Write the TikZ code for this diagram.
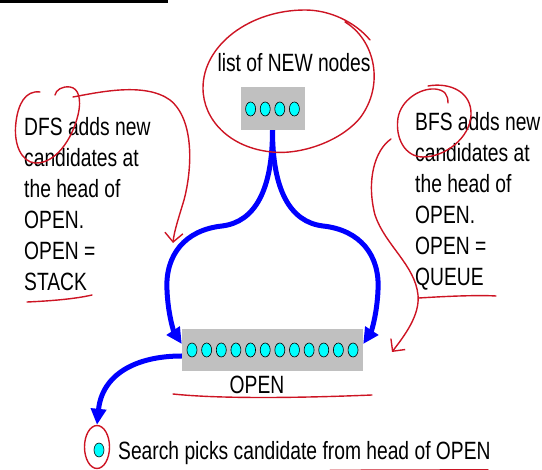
\documentclass[tikz,border=0pt]{standalone}
\usepackage{fontspec}
\setmainfont{Liberation Sans}[FakeStretch=0.77]
\usetikzlibrary{positioning,shapes.geometric,arrows.meta}
\definecolor{boxgray}{RGB}{192,192,192}
\definecolor{nodecyan}{RGB}{0,255,255}
\definecolor{penred}{RGB}{205,20,35}

\begin{document}
\begin{tikzpicture}[x=1pt, y=-1pt,
    box/.style={rectangle, fill=boxgray, inner sep=0pt},
    dot/.style={draw=black, ellipse, fill=nodecyan, minimum width=10pt, minimum height=14pt, inner sep=0pt, line width=0.6pt},
    arrow/.style={-{Triangle[length=16pt,width=15pt]}, line width=5pt, blue},
    txt/.style={inner sep=0pt, font=\fontsize{25}{30}\selectfont},
    note/.style={align=left, inner sep=0pt, font=\fontsize{25}{31}\selectfont},
    redpen/.style={penred, line width=1.4pt, line cap=round, line join=round},
    redtip/.style={-{Straight Barb[length=9pt,width=18pt]}}
  ]
  \useasboundingbox (0,0) rectangle (542,470);
  \draw [line width=3pt] (0,1.5) -- (168,1.5);

  % new nodes on top, OPEN list below
  \node (title) [txt, anchor=base] at (294,72) {list of NEW nodes};
  \node (newbox) [box, minimum width=64pt, minimum height=43pt] at (272.5,108.5) {};
  \foreach \i in {0,...,3}
    \node (new\i) [dot] at ({250.6+14.6*\i},109) {};

  \node (openbox) [box, minimum width=181pt, minimum height=42pt] at (272.5,350) {};
  \foreach \i in {0,...,11}
    \node (open\i) [dot] at ({192+14.64*\i},350) {};
  \node (openlbl) [txt, below=5pt of openbox, xshift=-15.5pt] {OPEN};

  \node (dfs) [note, anchor=north west] at (24,116.7) {DFS adds new\\candidates at\\the head of\\OPEN.\\OPEN =\\STACK};
  \node (bfs) [note, anchor=north west] at (415,111.7) {BFS adds new\\candidates at\\the head of\\OPEN.\\OPEN =\\QUEUE};

  \node (pick) [dot] at (99,450) {};
  \node (pickring) [draw=penred, line width=1.4pt, ellipse, minimum width=25pt, minimum height=43pt, inner sep=0pt] at (97,447) {};
  \node (picktxt) [txt, anchor=base west] at (118,460) {Search picks candidate from head of OPEN};

  % blue arrows
  \draw [arrow] (newbox.south) .. controls (272.5,190) and (255,222) .. (222,226)
    .. controls (185,230) and (165,255) .. (167,290)
    .. controls (168,315) and (174,332) .. ([yshift=6pt]openbox.west);
  \draw [arrow] (newbox.south) .. controls (272.5,190) and (290,222) .. (323,226)
    .. controls (360,230) and (380,255) .. (378,290)
    .. controls (377,315) and (371,332) .. ([yshift=6pt]openbox.east);
  \draw [arrow] ([yshift=-6pt]openbox.west) .. controls (135,356) and (102,375) .. (pickring.north);

  % red pen marks
  \draw [redpen] (345,22) .. controls (375,40) and (385,85) .. (360,118)
    .. controls (340,142) and (300,155) .. (272,152)
    .. controls (230,148) and (203,120) .. (203,88)
    .. controls (203,45) and (250,10) .. (305,10)
    .. controls (330,10) and (355,22) .. (370,40);
  \draw [redpen] (40,92) .. controls (25,90) and (18,105) .. (16,122)
    .. controls (13,145) and (22,162) .. (35,163)
    .. controls (55,164) and (72,140) .. (78,115)
    .. controls (82,98) and (78,88) .. (70,87)
    .. controls (62,86) and (56,90) .. (55,95);
  \draw [redpen, redtip] (73,97) .. controls (100,92) and (145,82) .. (170,100)
    .. controls (195,120) and (192,170) .. (184,200)
    .. controls (178,220) and (174,232) .. (173,243);
  \draw [redpen] (27,302) .. controls (50,301) and (75,299) .. (92,295);
  \draw [redpen] (428,86) .. controls (450,82) and (472,92) .. (471,115)
    .. controls (470,138) and (445,157) .. (423,157)
    .. controls (405,157) and (395,138) .. (398,118)
    .. controls (401,100) and (420,88) .. (435,89)
    .. controls (445,90) and (448,95) .. (448,103);
  \draw [redpen, redtip] (391,139) .. controls (375,150) and (366,180) .. (375,215)
    .. controls (385,245) and (415,265) .. (418,295)
    .. controls (420,315) and (405,335) .. (392,352);
  \draw [redpen] (419,298) .. controls (450,296) and (480,295) .. (496,296);
  \draw [redpen] (173,394) .. controls (220,399) and (300,398) .. (372,395);
  \draw [redpen] (330,470.3) -- (488,469.8);
\end{tikzpicture}
\end{document}
